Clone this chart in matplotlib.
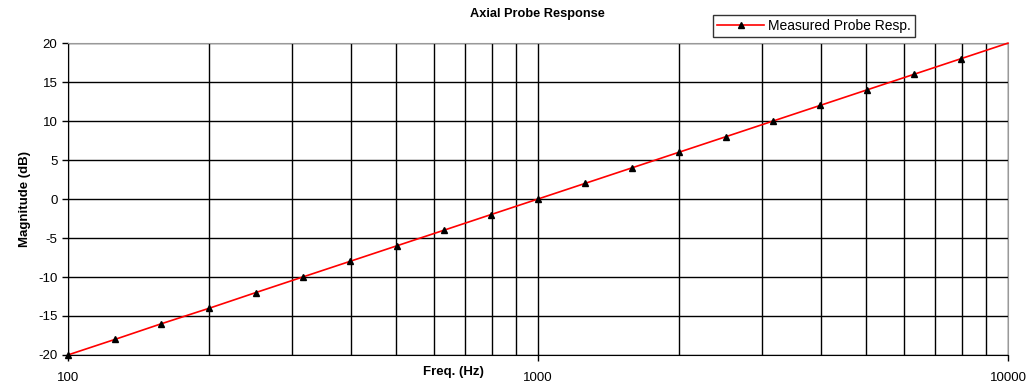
import matplotlib
matplotlib.use('Agg')
import matplotlib.pyplot as plt
from matplotlib.ticker import LogLocator, NullFormatter

plt.rcParams['font.family'] = ['Liberation Sans', 'DejaVu Sans']
plt.rcParams['axes.unicode_minus'] = False

freq_hz = [100, 126, 158, 200, 251, 316, 398, 501, 631, 794, 1000,
           1259, 1585, 1995, 2512, 3162, 3981, 5012, 6310, 7943, 10000]
magnitude_db = [-20, -18, -16, -14, -12, -10, -8, -6, -4, -2, 0,
                2, 4, 6, 8, 10, 12, 14, 16, 18, 20]
x_ticks = [100, 1000, 10000]
x_tick_labels = ['100', '1000', '10000']
y_ticks = [-20, -15, -10, -5, 0, 5, 10, 15, 20]

fig = plt.figure(figsize=(10.28, 3.85), dpi=100)
ax = fig.add_axes([0.066, 0.078, 0.9145, 0.81])

# last point (10 kHz) has no marker in the original
ax.plot(freq_hz, magnitude_db, color='red', linewidth=1.2, marker='^',
        markersize=5, markerfacecolor='black', markeredgecolor='black',
        markevery=slice(0, len(freq_hz) - 1),
        label='Measured Probe Resp.', zorder=3, clip_on=False)

ax.set_xscale('log')
ax.set_xlim(100, 10000)
ax.set_ylim(-20, 20)
ax.set_xticks(x_ticks)
ax.set_xticklabels(x_tick_labels)
ax.xaxis.set_minor_locator(LogLocator(base=10, subs=range(2, 10)))
ax.xaxis.set_minor_formatter(NullFormatter())
ax.set_yticks(y_ticks)

ax.grid(True, which='major', axis='both', color='black', linewidth=1)
ax.grid(True, which='minor', axis='x', color='black', linewidth=1)

ax.tick_params(axis='both', which='major', direction='out', length=4,
               width=1, labelsize=9.5, colors='black')
ax.tick_params(axis='x', which='minor', length=0)
ax.tick_params(axis='x', pad=8)

for side in ['top', 'right']:
    ax.spines[side].set_color('#999999')
for side in ['left', 'bottom']:
    ax.spines[side].set_color('black')

ax.set_ylabel('Magnitude (dB)', fontsize=9.5, fontweight='bold', labelpad=5)
fig.text(0.441, 0.018, 'Freq. (Hz)', fontsize=9.5, fontweight='bold',
         ha='center', va='bottom')
fig.text(0.523, 0.948, 'Axial Probe Response', fontsize=9.2,
         fontweight='bold', ha='center', va='bottom')

leg = ax.legend(loc='lower left', bbox_to_anchor=(0.686, 1.019), fontsize=10,
                frameon=True, fancybox=False, handlelength=3.4,
                borderpad=0.3, handletextpad=0.25, borderaxespad=0)
leg.get_frame().set_edgecolor('black')
leg.get_frame().set_linewidth(1)

fig.savefig('out.png', dpi=100)
